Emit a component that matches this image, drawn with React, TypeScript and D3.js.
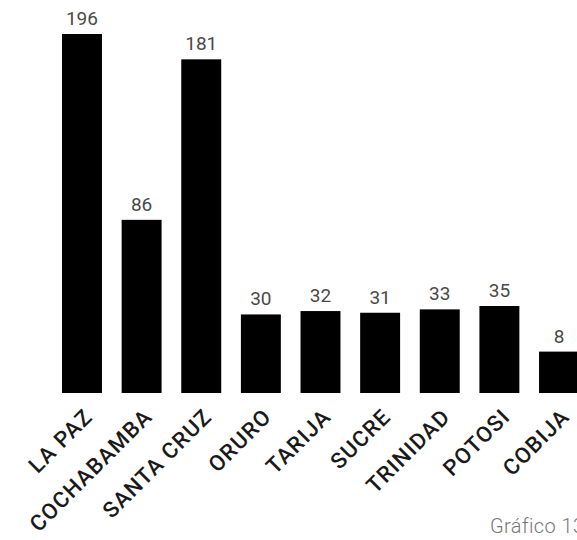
import React from "react";
import * as d3 from "d3";

const categories = ["LA PAZ", "COCHABAMBA", "SANTA CRUZ", "ORURO", "TARIJA", "SUCRE", "TRINIDAD", "POTOSI", "COBIJA"];
const values = [196, 86, 181, 30, 32, 31, 33, 35, 8];
const footer = "Gráfico 13";

const W = 577;
const H = 540;

export default function App() {
  const x = d3.scaleBand<string>().domain(categories).range([62, 579]).paddingInner(0.33).paddingOuter(0);
  const y = d3.scaleLinear().domain([-16.5, 196]).range([393, 34]);
  const bw = x.bandwidth();
  return (
    <svg width={W} height={H} style={{ position: "absolute", left: 0, top: 0, background: "#fff" }}>
      {categories.map((c, i) => {
        const x0 = x(c) as number;
        const cx = x0 + bw / 2;
        const v = values[i];
        return (
          <g key={c}>
            <rect x={x0} y={y(v)} width={bw} height={y(-16.5) - y(v)} fill="#000" />
            <text x={cx} y={y(v) - 9} textAnchor="middle" fontFamily="Roboto, sans-serif" fontSize={19} fill="#4a4a4a">
              {v}
            </text>
            <text
              transform={`translate(${cx + 12},${418}) rotate(-45)`}
              textAnchor="end"
              fontFamily="Roboto, sans-serif"
              fontWeight={500}
              fontSize={22}
              letterSpacing={1.2}
              fill="#1a1a1a"
            >
              {c}
            </text>
          </g>
        );
      })}
      <text x={490} y={533} fontFamily="Roboto, sans-serif" fontWeight={300} fontSize={20} letterSpacing={0.4} fill="#777">
        {footer}
      </text>
    </svg>
  );
}
